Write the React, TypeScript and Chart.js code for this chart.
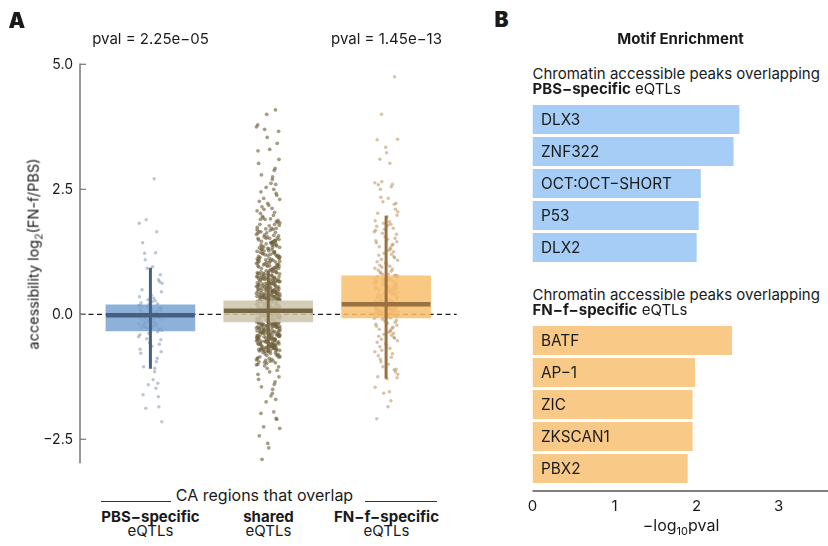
import React, { useEffect, useRef } from "react";
import { Chart, registerables } from "chart.js";

Chart.register(...registerables);

const FONT = "Inter, 'Noto Sans', sans-serif";

// ---------- Panel A data ----------
const groups = ["PBS−specific", "shared", "FN−f−specific"];
const pvalLabels = ["pval = 2.25e−05", "", "pval = 1.45e−13"];
const boxQ1 = [-0.33, -0.15, -0.07];
const boxQ3 = [0.19, 0.27, 0.77];
const boxMedian = [-0.02, 0.07, 0.2];
const whiskerLow = [-1.09, -0.75, -1.29];
const whiskerHigh = [0.93, 0.87, 1.97];
const yTicksA = [-2.5, 0, 2.5, 5.0];

const pbsValues = [
  2.71, 1.89, 1.82, 1.65, 1.43, 1.23, 1.22, 1.09, 0.95, 0.92, 0.79, 0.69, 0.65, 0.62, 0.49, 0.45, 0.38, 0.35, 0.32, 0.29,
  0.27, 0.25, 0.23, 0.21, 0.2, 0.18, 0.17, 0.15, 0.14, 0.13, 0.11, 0.1, 0.09, 0.07, 0.06, 0.05, 0.03, 0.02, 0.01, 0.0,
  -0.01, -0.02, -0.02, -0.03, -0.05, -0.06, -0.07, -0.08, -0.1, -0.11, -0.12, -0.14, -0.15, -0.16, -0.18, -0.19, -0.2,
  -0.21, -0.23, -0.24, -0.25, -0.26, -0.28, -0.29, -0.3, -0.31, -0.32, 0.16, 0.12, 0.04, -0.04, -0.09, -0.13, -0.17,
  -0.22, -0.27, -0.35, -0.38, -0.41, -0.45, -0.49, -0.51, -0.57, -0.6, -0.64, -0.7, -0.75, -0.78, -0.88, -0.95, -1.05,
  -1.08, -1.15, -1.31, -1.38, -1.41, -1.48, -1.61, -1.65, -1.85, -1.88, -2.15,
];

const sharedValues = [
  4.09, 4.0, 3.79, 3.75, 3.7, 3.66, 3.54, 3.42, 3.3, 3.27, 3.1, 3.02, 2.92, 2.88, 2.79, 2.75, 2.7, 2.62, 2.6, 2.54,
  2.5, 2.45, 2.42, 2.38, 2.32, 2.3, 2.26, 2.22, 2.18, 2.15, 2.12, 2.1, 2.07, 2.04, 2.02,
  1.98, 1.96, 1.93, 1.91, 1.9, 1.88, 1.86, 1.84, 1.83, 1.8, 1.78, 1.77, 1.74, 1.72, 1.71, 1.7, 1.68, 1.66, 1.64, 1.63,
  1.62, 1.6, 1.59, 1.57, 1.55, 1.53, 1.52, 1.52, 1.5, 1.49, 1.48, 1.47, 1.46, 1.45, 1.44, 1.43, 1.42, 1.41, 1.4, 1.39,
  1.38, 1.37, 1.35, 1.34, 1.33, 1.32, 1.31, 1.3, 1.29, 1.27, 1.26, 1.25, 1.24, 1.23, 1.22, 1.21, 1.2, 1.19, 1.18, 1.17,
  1.16, 1.15, 1.14, 1.13, 1.12, 1.11, 1.1, 1.09, 1.08, 1.07, 1.06, 1.05, 1.04, 1.03, 1.02, 1.01, 1.0, 0.99, 0.98, 0.97,
  0.97, 0.96, 0.95, 0.94, 0.93, 0.92, 0.91, 0.9, 0.89, 0.88,
  0.87, 0.86, 0.85, 0.84, 0.83, 0.82, 0.81, 0.81, 0.8, 0.79, 0.78, 0.77, 0.76, 0.75, 0.74, 0.74, 0.73, 0.72, 0.71, 0.7,
  0.7, 0.69, 0.68, 0.67, 0.66, 0.66, 0.65, 0.64, 0.63, 0.62, 0.62, 0.61, 0.6, 0.59, 0.58, 0.58, 0.57, 0.56, 0.55, 0.55,
  0.54, 0.53, 0.52, 0.52, 0.51, 0.5, 0.49, 0.49, 0.48, 0.47, 0.47, 0.46, 0.45, 0.45, 0.44, 0.43, 0.43, 0.42, 0.41, 0.41,
  0.4, 0.39, 0.39, 0.38, 0.38, 0.37, 0.36, 0.36, 0.35, 0.35, 0.34, 0.33, 0.33, 0.32, 0.31, 0.31, 0.3, 0.29, 0.29, 0.28,
  0.27, 0.26, 0.26, 0.25, 0.24, 0.24, 0.23, 0.22, 0.22, 0.21, 0.2, 0.2, 0.19, 0.18, 0.18, 0.17, 0.16, 0.16, 0.15, 0.14,
  0.14, 0.13, 0.12, 0.12, 0.11, 0.1, 0.1, 0.09, 0.08, 0.08, 0.07, 0.07, 0.06, 0.05, 0.05, 0.04, 0.03, 0.03, 0.02, 0.01,
  0.01, 0.0, -0.01, -0.01, -0.02, -0.03, -0.03, -0.04, -0.05, -0.05, -0.06, -0.07, -0.07, -0.08, -0.09, -0.09, -0.1,
  -0.11, -0.11, -0.12, -0.13, -0.13, -0.14, -0.15, 0.19, 0.09, 0.0, -0.06, 0.13, 0.04,
  -0.16, -0.17, -0.17, -0.18, -0.19, -0.2, -0.2, -0.21, -0.22, -0.23, -0.24, -0.24, -0.25, -0.26, -0.27, -0.28, -0.28,
  -0.29, -0.3, -0.31, -0.32, -0.32, -0.33, -0.34, -0.35, -0.36, -0.36, -0.37, -0.38, -0.39, -0.4, -0.41, -0.41, -0.42,
  -0.43, -0.44, -0.45, -0.46, -0.46, -0.47, -0.48, -0.49, -0.5, -0.51, -0.52, -0.52, -0.53, -0.54, -0.55, -0.56, -0.57,
  -0.58, -0.58, -0.59, -0.6, -0.61, -0.62, -0.63, -0.64, -0.64, -0.65, -0.66, -0.67, -0.68, -0.69, -0.7, -0.7, -0.71,
  -0.72, -0.73, -0.74, -0.75, -0.19, -0.26, -0.34, -0.43, -0.5, -0.6, -0.67, -0.22,
  -0.76, -0.78, -0.79, -0.8, -0.81, -0.83, -0.84, -0.85, -0.86, -0.88, -0.89, -0.9, -0.92, -0.93, -0.94, -0.95, -0.97,
  -0.98, -1.0, -1.01, -1.03, -1.05, -1.08, -1.12, -1.15, -1.2, -1.25, -1.3, -1.35, -1.4, -1.45, -1.5, -1.58, -1.63,
  -1.7, -1.75, -1.95, -1.98, -2.08, -2.1, -2.25, -2.28, -2.43, -2.58, -2.67, -2.9,
  0.85, 0.8, 0.76, 0.72, 0.69, 0.65, 0.61, 0.57, 0.54, 0.5, 0.47, 0.44, 0.4, 0.37, 0.34, 0.3, 0.28, 0.83, 0.78, 0.73,
  0.68, 0.63, 0.59, 0.56, 0.51, 0.46, 0.42, 0.39, 0.35, 0.32, 0.29, 0.88, 0.82, 0.75, 0.71, 0.64, 0.6, 0.53, 0.48,
  0.44, 0.4, 0.36, 0.33, 0.3,
  0.26, 0.23, 0.21, 0.17, 0.15, 0.11, 0.08, 0.06, 0.02, -0.02, -0.04, -0.08, -0.1, -0.12, -0.14, 0.25, 0.22, 0.18,
  0.14, 0.1, 0.05, 0.01, -0.03, -0.06, -0.09, -0.13, 0.2, 0.12, 0.03, -0.05,
  -0.16, -0.18, -0.21, -0.23, -0.25, -0.27, -0.3, -0.33, -0.35, -0.37, -0.4, -0.42, -0.44, -0.47, -0.49, -0.51, -0.54,
  -0.56, -0.59, -0.61, -0.63, -0.66, -0.68, -0.71, -0.73, -0.17, -0.2, -0.24, -0.29, -0.31, -0.34, -0.38, -0.42,
  -0.45, -0.48, -0.53, -0.57, -0.62, -0.65, -0.69, -0.72, -0.74, -0.19, -0.22, -0.26, -0.32, -0.36, -0.39, -0.43,
  -0.46, -0.5, -0.55, -0.6, -0.64, -0.7, -0.77, -0.82, -0.87, -0.91, -0.96,
  0.92, 0.96, 1.0, 1.04, 1.08, 1.12, 1.16, 1.21, 1.25, 1.3, 1.34, 1.38, 1.43, 1.47, 1.52, 1.58, 1.65, 1.72, 0.94, 0.99,
  1.06, 1.11, 1.18, 1.27, 1.36, 1.44, 1.55, 1.69, 1.8, 1.9,
];

const fnfValues = [
  4.75, 4.0, 3.5, 3.49, 3.34, 3.23, 3.1, 3.02, 2.65, 2.63, 2.6, 2.59, 2.55, 2.5, 2.34, 2.32, 2.25, 2.22, 2.2, 2.1, 2.05,
  2.02, 1.98, 1.95, 1.87, 1.85, 1.82, 1.8, 1.78, 1.76, 1.72, 1.7, 1.68, 1.65, 1.62, 1.6, 1.55, 1.52, 1.5, 1.47, 1.45,
  1.43, 1.4, 1.38, 1.35, 1.33, 1.3, 1.28, 1.25, 1.22, 1.2, 1.18, 1.15, 1.13, 1.1, 1.08, 1.05, 1.03, 1.0, 0.98, 0.96,
  0.94, 0.92, 0.9, 0.88, 0.86, 0.84, 0.82, 0.8, 0.79, 0.78, 0.77,
  0.77, 0.76, 0.75, 0.74, 0.73, 0.72, 0.71, 0.7, 0.69, 0.68, 0.66, 0.65, 0.64, 0.63, 0.62, 0.6, 0.59, 0.58, 0.57, 0.56,
  0.54, 0.53, 0.52, 0.51, 0.5, 0.48, 0.47, 0.46, 0.45, 0.44, 0.42, 0.41, 0.4, 0.39, 0.38, 0.36, 0.35, 0.34, 0.33, 0.32,
  0.3, 0.29, 0.28, 0.27, 0.26, 0.25, 0.24, 0.23, 0.22, 0.21, 0.7, 0.61, 0.55, 0.49, 0.43, 0.37, 0.31, 0.25, 0.67, 0.52,
  0.2, 0.2, 0.19, 0.19, 0.18, 0.18, 0.17, 0.17, 0.16, 0.16, 0.15, 0.15, 0.14, 0.14, 0.13, 0.13, 0.12, 0.12, 0.11, 0.11,
  0.1, 0.1, 0.09, 0.09, 0.08, 0.08, 0.07, 0.07, 0.06, 0.06, 0.05, 0.05, 0.04, 0.04, 0.03, 0.03, 0.02, 0.02, 0.01, 0.01,
  0.0, 0.0, -0.01, -0.01, -0.02, -0.02, -0.03, -0.03, -0.04, -0.04, -0.05, -0.05, -0.06, -0.06, -0.07, 0.15, 0.08, 0.0,
  -0.03, 0.11,
  -0.08, -0.1, -0.12, -0.14, -0.16, -0.18, -0.2, -0.22, -0.24, -0.26, -0.28, -0.3, -0.32, -0.34, -0.36, -0.38, -0.4,
  -0.42, -0.44, -0.46, -0.48, -0.5, -0.53, -0.56, -0.59, -0.62, -0.65, -0.68, -0.72, -0.75, -0.79, -0.83, -0.86, -0.9,
  -0.95, -1.0, -1.05, -1.1, -1.11, -1.15, -1.2, -1.25, -1.27, -1.29, -1.46, -1.55, -1.58, -1.73, -1.85, -2.09,
];

// hand-picked horizontal jitter offsets (category units)
const jitterOffsets = [
  0.032, -0.071, 0.088, -0.018, 0.054, -0.093, 0.012, 0.067, -0.049, 0.041, -0.082, 0.097, -0.027, 0.061, -0.058,
  0.004, 0.079, -0.1, 0.023, -0.036, 0.093, -0.009, 0.047, -0.066, 0.028, -0.087, 0.072, -0.044, 0.016, 0.058, -0.076,
  0.084, -0.013, 0.037, -0.053, 0.099, -0.031, 0.063, -0.095, 0.008, 0.076, -0.062, 0.044, -0.021, 0.091, -0.039,
  0.019, -0.079, 0.051, -0.004, 0.069, -0.089, 0.035,
];

// ---------- Panel B data ----------
const pbsMotifs = ["DLX3", "ZNF322", "OCT:OCT−SHORT", "P53", "DLX2"];
const pbsMotifValues = [2.52, 2.45, 2.05, 2.025, 2.0];
const fnfMotifs = ["BATF", "AP−1", "ZIC", "ZKSCAN1", "PBX2"];
const fnfMotifValues = [2.43, 1.98, 1.95, 1.95, 1.89];
const xTicksB = [0, 1, 2, 3];

// ---------- styles ----------
const boxFill = ["rgba(122,163,210,0.85)", "rgba(205,196,172,0.85)", "rgba(248,190,109,0.85)"];
const lineColors = ["#46617f", "#776843", "#9a7242"];
const pointColors = ["rgba(120,140,172,0.5)", "rgba(112,96,58,0.62)", "rgba(190,152,105,0.58)"];
const pointRadii = [1.7, 1.85, 1.75];
const X_MIN_A = 0.4025;
const X_MAX_A = 3.6;
const HALF_BOX = 0.377;

const fmtTick = (v: number) => (v < 0 ? "−" + Math.abs(v).toFixed(1) : v.toFixed(1));

function jittered(values: number[], center: number, g: number) {
  const n = jitterOffsets.length;
  return values.map((v, i) => ({ x: center + jitterOffsets[(i * 19 + g * 13) % n], y: v }));
}

const axisAPlugin = {
  id: "axisA",
  afterDraw(chart: any) {
    const { ctx, chartArea, scales } = chart;
    const y = scales.y;
    const x0 = chartArea.left;
    ctx.save();
    ctx.strokeStyle = "#777";
    ctx.lineWidth = 1.5;
    ctx.beginPath();
    ctx.moveTo(x0, y.getPixelForValue(5.0) - 0.75);
    ctx.lineTo(x0, chartArea.bottom);
    ctx.stroke();
    ctx.lineWidth = 1.2;
    yTicksA.forEach((t) => {
      const py = y.getPixelForValue(t);
      ctx.beginPath();
      ctx.moveTo(x0, py);
      ctx.lineTo(x0 + 6, py);
      ctx.stroke();
    });
    ctx.restore();
  },
};

function barLabelPlugin(labels: string[], withAxis: boolean) {
  return {
    id: "barLabels",
    afterDatasetsDraw(chart: any) {
      const { ctx, chartArea, scales } = chart;
      ctx.save();
      ctx.font = `15.3px ${FONT}`;
      ctx.fillStyle = "#1a1a1a";
      ctx.textBaseline = "middle";
      ctx.textAlign = "left";
      labels.forEach((l, i) => {
        ctx.fillText(l, scales.x.getPixelForValue(0) + 8.5, scales.y.getPixelForValue(i) + 0.5);
      });
      if (withAxis) {
        ctx.strokeStyle = "#555";
        ctx.lineWidth = 1.3;
        ctx.beginPath();
        ctx.moveTo(chartArea.left, chartArea.bottom + 6.5);
        ctx.lineTo(chartArea.right, chartArea.bottom + 6.5);
        ctx.stroke();
      }
      ctx.restore();
    },
  };
}

function makeBarChart(
  canvas: HTMLCanvasElement,
  labels: string[],
  values: number[],
  color: string,
  withAxis: boolean,
  padTop: number,
  padBottom: number
) {
  const xScale: any = {
    type: "linear",
    min: 0,
    max: 3.6,
    display: withAxis,
    afterBuildTicks: (s: any) => {
      s.ticks = xTicksB.map((v) => ({ value: v }));
    },
    grid: { display: false, drawTicks: false },
    border: { display: false },
    ticks: { padding: 13, color: "#1a1a1a", font: { family: FONT, size: 15 }, callback: (v: any) => String(v) },
  };
  if (withAxis) {
    xScale.afterFit = (s: any) => {
      s.height = 61.5;
    };
  }
  return new Chart(canvas, {
    type: "bar",
    data: {
      labels,
      datasets: [
        {
          data: values,
          backgroundColor: color,
          borderWidth: 0,
          barPercentage: 29 / 32,
          categoryPercentage: 1,
        },
      ],
    },
    options: {
      indexAxis: "y",
      animation: false,
      responsive: false,
      events: [],
      layout: { padding: { left: 52.5, right: 0, top: padTop, bottom: padBottom } },
      plugins: { legend: { display: false }, tooltip: { enabled: false } },
      scales: {
        x: xScale,
        y: { display: false, offset: true },
      },
    } as any,
    plugins: [barLabelPlugin(labels, withAxis)],
  });
}

const T: React.FC<{
  x: number;
  y: number;
  size?: number;
  weight?: number;
  align?: "center" | "left";
  children: React.ReactNode;
}> = ({ x, y, size = 15, weight = 400, align = "center", children }) => (
  <div
    style={{
      position: "absolute",
      left: x,
      top: y - size / 2,
      fontSize: size,
      lineHeight: `${size}px`,
      fontWeight: weight,
      whiteSpace: "nowrap",
      color: "#1a1a1a",
      transform: align === "center" ? "translateX(-50%)" : undefined,
    }}
  >
    {children}
  </div>
);

export default function App() {
  const refA = useRef<HTMLCanvasElement>(null);
  const refB1 = useRef<HTMLCanvasElement>(null);
  const refB2 = useRef<HTMLCanvasElement>(null);

  useEffect(() => {
    const centers = [1, 2, 3];
    const valueSets = [pbsValues, sharedValues, fnfValues];
    const datasets: any[] = [
      {
        type: "line",
        data: [
          { x: X_MIN_A, y: 0 },
          { x: X_MAX_A, y: 0 },
        ],
        borderColor: "#1a1a1a",
        borderWidth: 1.3,
        borderDash: [5, 3.5],
        pointRadius: 0,
        order: 10,
      },
    ];
    valueSets.forEach((vals, g) => {
      datasets.push({
        type: "scatter",
        data: jittered(vals, centers[g], g),
        backgroundColor: pointColors[g],
        borderWidth: 0,
        pointRadius: pointRadii[g],
        pointBorderWidth: 0,
        order: 9,
      });
    });
    datasets.push({
      type: "bar",
      data: centers.map((c, i) => ({ x: c, y: [boxQ1[i], boxQ3[i]] })),
      backgroundColor: boxFill,
      borderWidth: 0,
      barThickness: 89,
      order: 5,
    });
    centers.forEach((c, i) => {
      datasets.push({
        type: "line",
        data: [
          { x: c, y: whiskerLow[i] },
          { x: c, y: whiskerHigh[i] },
        ],
        borderColor: lineColors[i],
        borderWidth: 3,
        pointRadius: 0,
        borderCapStyle: "butt",
        order: 3,
      });
      datasets.push({
        type: "line",
        data: [
          { x: c - HALF_BOX, y: boxMedian[i] },
          { x: c + HALF_BOX, y: boxMedian[i] },
        ],
        borderColor: lineColors[i],
        borderWidth: 4.5,
        pointRadius: 0,
        borderCapStyle: "butt",
        order: 1,
      });
    });

    const chartA = new Chart(refA.current!, {
      type: "scatter",
      data: { datasets },
      options: {
        animation: false,
        responsive: false,
        events: [],
        layout: { padding: { left: 40, right: 13.2, top: 64.3, bottom: 16.7 } },
        plugins: { legend: { display: false }, tooltip: { enabled: false } },
        scales: {
          x: {
            type: "linear",
            min: X_MIN_A,
            max: X_MAX_A,
            offset: false,
            display: false,
            grid: { offset: false },
          },
          y: {
            type: "linear",
            min: -2.98,
            max: 5.0,
            beginAtZero: false,
            afterFit: (s: any) => {
              s.width = 40;
            },
            afterBuildTicks: (s: any) => {
              s.ticks = yTicksA.map((v) => ({ value: v }));
            },
            grid: { display: false, drawTicks: false },
            border: { display: false },
            ticks: {
              padding: 7,
              color: "#1a1a1a",
              font: { family: FONT, size: 14 },
              callback: (v: any) => fmtTick(Number(v)),
            },
          },
        },
      } as any,
      plugins: [axisAPlugin],
    });

    const chartB1 = makeBarChart(refB1.current!, pbsMotifs, pbsMotifValues, "#a5cdf6", false, 13.5, 6.5);
    const chartB2 = makeBarChart(refB2.current!, fnfMotifs, fnfMotifValues, "#f9c987", true, 14.5, 0);

    return () => {
      chartA.destroy();
      chartB1.destroy();
      chartB2.destroy();
    };
  }, []);

  return (
    <div
      style={{
        position: "absolute",
        left: 0,
        top: 0,
        width: 828,
        height: 546,
        background: "#fff",
        fontFamily: FONT,
        overflow: "hidden",
      }}
    >
      <canvas ref={refA} width={470} height={480} style={{ position: "absolute", left: 0, top: 0 }} />
      <canvas ref={refB1} width={348} height={180} style={{ position: "absolute", left: 480, top: 90 }} />
      <canvas ref={refB2} width={348} height={236} style={{ position: "absolute", left: 480, top: 310 }} />

      <T x={8.5} y={20} size={21} weight={900} align="left">
        A
      </T>
      <T x={494.5} y={19.5} size={21} weight={900} align="left">
        B
      </T>

      {pvalLabels.map((p, i) =>
        p ? (
          <T key={i} x={150.5 + i * 118} y={38.5}>
            {p}
          </T>
        ) : null
      )}

      <div
        style={{
          position: "absolute",
          left: 35,
          top: 254,
          transform: "translate(-50%, -50%) rotate(-90deg)",
          fontSize: 14.5,
          whiteSpace: "nowrap",
          color: "#1a1a1a",
        }}
      >
        accessibility log<sub style={{ fontSize: 10.5 }}>2</sub>(FN-f/PBS)
      </div>

      <div style={{ position: "absolute", left: 100.5, top: 500.5, width: 70, borderTop: "1px solid #333" }} />
      <div style={{ position: "absolute", left: 365, top: 500.5, width: 72, borderTop: "1px solid #333" }} />
      <T x={264.5} y={494.5} size={16}>
        CA regions that overlap
      </T>

      {groups.map((g, i) => (
        <React.Fragment key={g}>
          <T x={150.5 + i * 118} y={516.5} weight={700}>
            {g}
          </T>
          <T x={150.5 + i * 118} y={530.5}>
            eQTLs
          </T>
        </React.Fragment>
      ))}

      <T x={680.5} y={38.5} weight={700}>
        Motif Enrichment
      </T>
      <T x={532.5} y={73.5} align="left">
        Chromatin accessible peaks overlapping
      </T>
      <T x={532.5} y={88.5} align="left">
        <b>PBS−specific</b> eQTLs
      </T>
      <T x={532.5} y={294} align="left">
        Chromatin accessible peaks overlapping
      </T>
      <T x={532.5} y={309} align="left">
        <b>FN−f−specific</b> eQTLs
      </T>
      <T x={681} y={525} size={16}>
        −log<sub style={{ fontSize: 11, lineHeight: 0 }}>10</sub>pval
      </T>
    </div>
  );
}
